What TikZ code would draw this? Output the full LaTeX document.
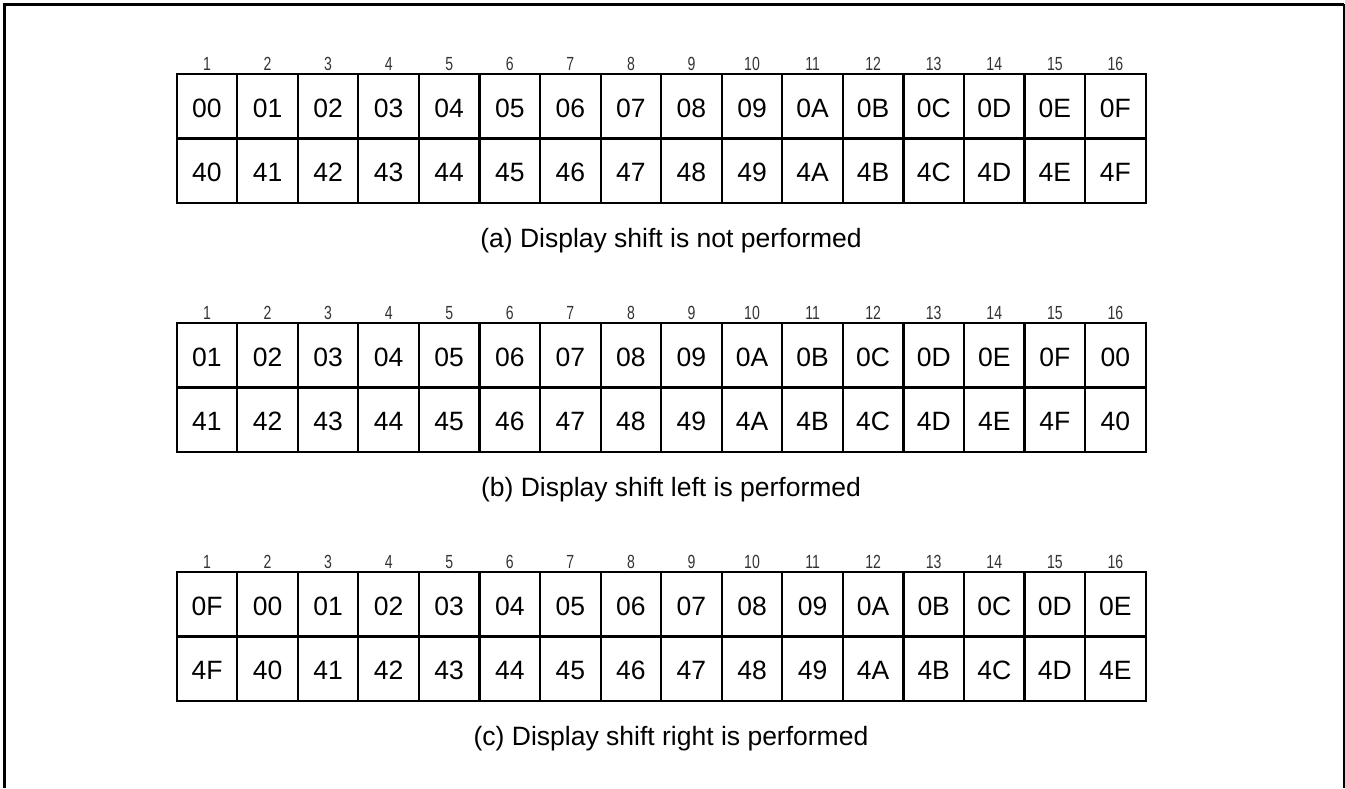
\documentclass[tikz,border=0pt]{standalone}
\usepackage{fontspec}
\setmainfont{Liberation Sans}
\newfontfamily\colnumfont{Liberation Sans}[FakeStretch=0.74]
\begin{document}
\begin{tikzpicture}[x=1bp,y=-1bp,
  cell/.style={draw, line width=2.2bp, minimum width=60.56bp, minimum height=64.5bp,
    inner sep=0pt, text height=22bp, text depth=0bp,
    font=\fontsize{26.5bp}{30bp}\selectfont},
  colnum/.style={font=\colnumfont\fontsize{19bp}{21bp}\selectfont, text=black!80,
    anchor=base, inner sep=0pt},
  captionlbl/.style={font=\fontsize{26.5bp}{30bp}\selectfont, anchor=base, inner sep=0pt},
  frameline/.style={line width=2.7bp}]
\useasboundingbox (0,0) rectangle (1345,788);
\draw[frameline] (4.3,788) -- (4.3,4.3) -- (1344,4.3);
\draw[line width=1.8bp] (1343.6,4.3) -- (1343.6,788);
\def\hexd{{"0","1","2","3","4","5","6","7","8","9","A","B","C","D","E","F"}}
\foreach \p/\s/\gtop/\captext in {a/0/74/Display shift is not performed,
    b/1/323/Display shift left is performed,
    c/15/572/Display shift right is performed}{
  \foreach \c in {1,...,16}{
    \pgfmathsetmacro\xc{176.7+(\c-0.5)*60.56}
    \pgfmathparse{\hexd[int(mod(\c-1+\s,16))]}\let\hx\pgfmathresult
    \node[cell] (\p1-\c) at (\xc,\gtop+32.25) {0\hx};
    \node[cell] (\p2-\c) at (\xc,\gtop+96.75) {4\hx};
    \node[colnum] (\p num-\c) at (\xc,\gtop-3.3) {\c};
  }
  \node[captionlbl] (cap\p) at (671,\gtop+173) {(\p) \captext};
}
\end{tikzpicture}
\end{document}
